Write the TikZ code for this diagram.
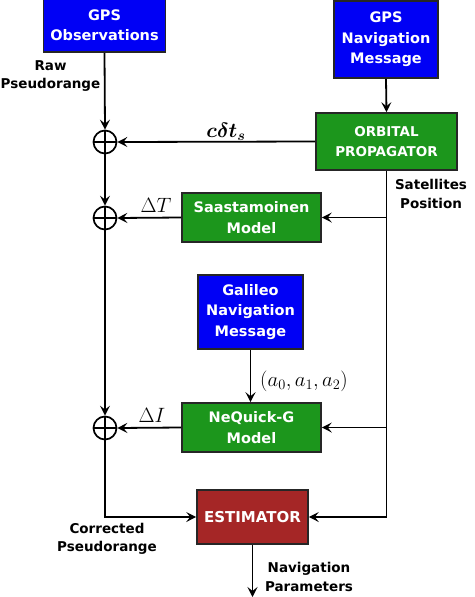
\documentclass[tikz,border=0pt]{standalone}
\usepackage{fontspec}
\setsansfont{DejaVu Sans}
\usetikzlibrary{arrows.meta}
\definecolor{msgblue}{RGB}{0,0,245}
\definecolor{modgreen}{RGB}{28,150,28}
\definecolor{estred}{RGB}{165,38,38}

\begin{document}
\begin{tikzpicture}[x=1pt,y=-1pt,
    every node/.style={font=\sffamily\bfseries\fontsize{14.5}{20.5}\selectfont},
    box/.style={draw=black!85,line width=1.6pt,text=white,align=center,inner sep=0pt},
    msgbox/.style={box,fill=msgblue},
    modbox/.style={box,fill=modgreen},
    estbox/.style={box,fill=estred},
    lbl/.style={align=center,text=black,font=\sffamily\bfseries\fontsize{13.5}{18.5}\selectfont},
    mathlbl/.style={font=\fontsize{20}{22}\selectfont},
    boldlbl/.style={font={\fontsize{20}{22}\selectfont\boldmath}},
    sumnode/.style={circle,draw,line width=1.7pt,minimum size=23pt,inner sep=0pt,
      path picture={\draw[line width=1.2pt]
        (path picture bounding box.north) -- (path picture bounding box.south)
        (path picture bounding box.west) -- (path picture bounding box.east);}},
    wire/.style={line width=1.8pt},
    flow/.style={wire,-{Stealth[length=10pt,width=10pt,inset=4pt]}}]
  \useasboundingbox (0,0) rectangle (474,597);

  % sources
  \node[msgbox,minimum width=122pt,minimum height=54pt] (obs) at (104.5,25) {GPS\\Observations};
  \node[msgbox,minimum width=104pt,minimum height=77pt] (gpsnav) at (386,39.5) {GPS\\Navigation\\Message};
  \node[msgbox,minimum width=105pt,minimum height=74pt] (galnav) at (250.5,312) {Galileo\\Navigation\\Message};

  % models
  \node[modbox,minimum width=141pt,minimum height=57pt,
    font=\sffamily\bfseries\fontsize{13.5}{20}\selectfont] (orb) at (386.5,141.5) {ORBITAL\\PROPAGATOR};
  \node[modbox,minimum width=139pt,minimum height=49pt] (saas) at (251.5,217.5) {Saastamoinen\\Model};
  \node[modbox,minimum width=139pt,minimum height=49pt] (neq) at (251.5,427.5) {NeQuick-G\\Model};
  \node[estbox,minimum width=111pt,minimum height=54pt,
    font=\sffamily\bfseries\fontsize{15}{20}\selectfont] (est) at (252.5,517) {ESTIMATOR};

  % summing points
  \node[sumnode] (sum1) at (105,142) {};
  \node[sumnode] (sum2) at (105,218) {};
  \node[sumnode] (sum3) at (105,428) {};

  \coordinate (sat) at (orb.south);
  \coordinate (corner) at (105,517);
  \coordinate (out) at (252.5,597);

  % connectors
  \draw[flow] (obs.south) -- (sum1.north);
  \draw[flow] (sum1.south) -- (sum2.north);
  \draw[flow] (sum2.south) -- (sum3.north);
  \draw[flow] (sum3.south) -- (corner) -- (est.west);
  \draw[flow] (gpsnav.south) -- (orb.north);
  \draw[flow] (orb.west) -- (sum1.east);
  \draw[flow] (sat) -- (sat |- est.east) -- (est.east);
  \draw[flow] (sat |- saas.east) -- (saas.east);
  \draw[flow] (sat |- neq.east) -- (neq.east);
  \draw[flow] (saas.west) -- (sum2.east);
  \draw[flow] (neq.west) -- (sum3.east);
  \draw[flow] (galnav.south) -- (galnav.south |- neq.north);
  \draw[flow] (est.south) -- (out);

  % labels
  \node[lbl] (raw) at (50.5,76) {Raw\\Pseudorange};
  \node[lbl] (satpos) at (431,194) {Satellites\\Position};
  \node[lbl] (corr) at (107,539) {Corrected\\Pseudorange};
  \node[lbl] (navpar) at (309,577) {Navigation\\Parameters};
  \node[boldlbl] (clk) at (226,132) {$c\delta t_s$};
  \node[mathlbl] (tropo) at (156,205) {$\Delta T$};
  \node[mathlbl] (iono) at (152,415) {$\Delta I$};
  \node[mathlbl] (coef) at (304,381) {$(a_0,a_1,a_2)$};
\end{tikzpicture}
\end{document}
